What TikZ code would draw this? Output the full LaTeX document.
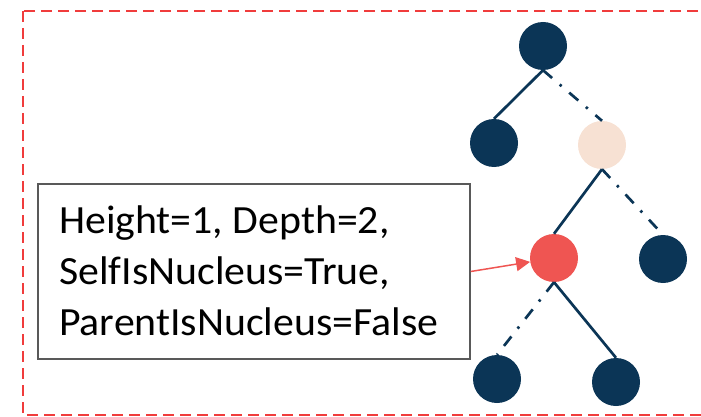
\documentclass[tikz,border=0pt]{standalone}
\usepackage{fontspec}
\setmainfont{Carlito}
\newfontfamily\boxfont[FakeStretch=1.045]{Carlito}
\usetikzlibrary{arrows.meta}
\definecolor{navy}{HTML}{0B3556}
\definecolor{peach}{HTML}{F7E1D3}
\definecolor{rednode}{HTML}{EF5552}
\definecolor{border}{HTML}{F03C3C}
\definecolor{boxgray}{HTML}{595959}
\tikzset{
  treenode/.style={circle, minimum size=48pt, inner sep=0pt, fill=#1},
  solidedge/.style={draw=navy, line width=2.7pt},
  dashdotedge/.style={draw=navy, line width=2.7pt, dash pattern=on 12pt off 10pt on 2.5pt off 10pt},
  infobox/.style={draw=boxgray, line width=1.5pt, minimum width=432pt, minimum height=175pt, inner sep=0pt},
  callout/.style={draw=rednode, line width=1.5pt, -{Triangle[length=14pt,width=14pt]}},
}
\begin{document}
\begin{tikzpicture}[x=1pt,y=-1pt]
\useasboundingbox (0,0) rectangle (701,417);
\clip (0,0) rectangle (701,417);
\draw[border, line width=2pt, dash pattern=on 11pt off 6pt] (23,11) rectangle (730,415);
\node[treenode=navy] (root) at (543,46) {};
\node[treenode=navy] (l) at (494,143) {};
\node[treenode=peach] (p) at (602,145) {};
\node[treenode=rednode] (r) at (554,258) {};
\node[treenode=navy] (pr) at (663,259) {};
\node[treenode=navy] (rl) at (497,379) {};
\node[treenode=navy] (rr) at (616,382) {};
\path[solidedge] (root.south) -- (l.north);
\path[dashdotedge] (root.south) -- (p.north);
\path[solidedge] (p.south) -- (r.north);
\path[dashdotedge] (p.south) -- (pr.north);
\path[dashdotedge] (r.south) -- (rl.north);
\path[solidedge] (r.south) -- (rr.north);
\node[infobox] (box) at (254,271.5) {};
\node[font=\boxfont\fontsize{40pt}{51pt}\selectfont, align=left, anchor=west, inner sep=0pt] (txt) at (59,271) {Height=1, Depth=2,\\SelfIsNucleus=True,\\ParentIsNucleus=False};
\draw[callout] (box.east) -- (r);
\end{tikzpicture}
\end{document}
